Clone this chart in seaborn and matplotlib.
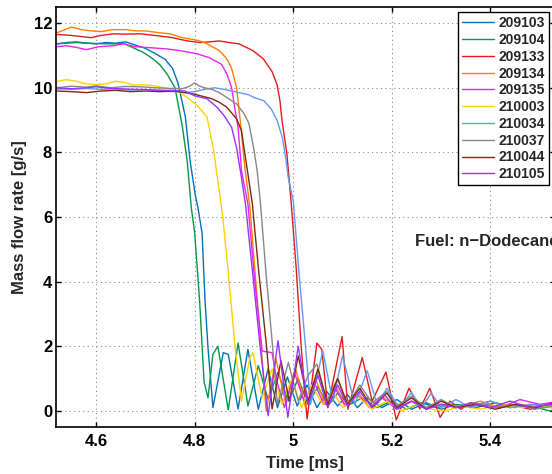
import pandas as pd
import seaborn as sns
import matplotlib.pyplot as plt

runs = ['209103', '209104', '209133', '209134', '209135',
        '210003', '210034', '210037', '210044', '210105']
colors = ['#0072bd', '#00994d', '#e41a1c', '#ff7f00', '#ee22ee',
          '#ffd200', '#6699f0', '#888888', '#7b2c0e', '#9933ff']

run_209103 = [(4.52, 11.36), (4.54, 11.40), (4.56, 11.42), (4.58, 11.38), (4.60, 11.36), (4.62, 11.40),
              (4.64, 11.38), (4.66, 11.42), (4.68, 11.32), (4.70, 11.22), (4.72, 11.06), (4.74, 10.88),
              (4.755, 10.6), (4.766, 10.15), (4.774, 9.6), (4.781, 9.1), (4.791, 7.7), (4.801, 6.7),
              (4.807, 6.25), (4.815, 5.5), (4.821, 3.4), (4.827, 1.95), (4.837, 0.1), (4.858, 1.8),
              (4.868, 1.75), (4.888, 0.06), (4.908, 1.9), (4.929, 0.05), (4.949, 1.3), (4.968, 0.1),
              (4.988, 1.05), (5.008, 0.15), (5.028, 0.8), (5.048, 0.1), (5.068, 0.6), (5.09, 0.15),
              (5.11, 0.5), (5.13, 0.1), (5.15, 0.4), (5.18, 0.1), (5.21, 0.35), (5.24, 0.05),
              (5.27, 0.25), (5.30, 0.05), (5.33, 0.2), (5.37, 0.1), (5.41, 0.25), (5.45, 0.1),
              (5.49, 0.2), (5.53, 0.12), (5.56, 0.15)]

run_209104 = [(4.52, 11.36), (4.54, 11.38), (4.56, 11.40), (4.58, 11.38), (4.60, 11.37), (4.62, 11.36),
              (4.64, 11.36), (4.655, 11.38), (4.675, 11.24), (4.695, 11.1), (4.715, 10.9), (4.73, 10.7),
              (4.745, 10.4), (4.76, 10.0), (4.775, 8.8), (4.785, 7.7), (4.793, 6.3), (4.80, 5.5),
              (4.81, 3.4), (4.815, 2.0), (4.819, 0.9), (4.827, 0.4), (4.837, 1.75), (4.847, 2.0),
              (4.868, 0.03), (4.888, 2.1), (4.908, 0.15), (4.929, 1.4), (4.949, 0.35), (4.969, 1.2),
              (4.99, 0.3), (5.01, 1.0), (5.03, 0.2), (5.05, 0.75), (5.07, 0.15), (5.09, 0.55),
              (5.115, 0.2), (5.14, 0.4), (5.17, 0.1), (5.20, 0.3), (5.23, 0.05), (5.26, 0.25),
              (5.29, 0.1), (5.32, 0.2), (5.36, 0.15), (5.40, 0.3), (5.44, 0.1), (5.48, 0.15),
              (5.52, 0.0), (5.56, 0.1)]

run_209133 = [(4.52, 11.65), (4.55, 11.62), (4.59, 11.55), (4.61, 11.62), (4.635, 11.67), (4.66, 11.66),
              (4.69, 11.67), (4.73, 11.6), (4.755, 11.55), (4.785, 11.45), (4.81, 11.4), (4.83, 11.42),
              (4.85, 11.45), (4.87, 11.4), (4.89, 11.36), (4.918, 11.15), (4.939, 10.9), (4.957, 10.5),
              (4.967, 10.1), (4.973, 9.6), (4.977, 9.0), (4.987, 7.96), (4.996, 6.4), (5.006, 4.4),
              (5.016, 2.0), (5.028, -0.25), (5.048, 2.1), (5.058, 1.9), (5.07, 0.1), (5.099, 2.3),
              (5.111, 0.05), (5.14, 1.65), (5.16, 0.3), (5.188, 1.2), (5.209, -0.28), (5.235, 0.7),
              (5.257, 0.06), (5.277, 0.7), (5.298, -0.2), (5.318, 0.3), (5.34, 0.05), (5.36, 0.25),
              (5.40, 0.1), (5.44, 0.2), (5.48, 0.05), (5.52, 0.15), (5.56, 0.1)]

run_209134 = [(4.52, 11.7), (4.55, 11.88), (4.57, 11.8), (4.59, 11.76), (4.61, 11.74), (4.635, 11.8),
              (4.66, 11.8), (4.68, 11.76), (4.70, 11.76), (4.73, 11.7), (4.75, 11.67), (4.775, 11.55),
              (4.795, 11.5), (4.81, 11.45), (4.825, 11.36), (4.85, 11.15), (4.865, 10.9), (4.875, 10.6),
              (4.885, 10.0), (4.893, 8.9), (4.902, 7.5), (4.912, 6.3), (4.924, 4.0), (4.935, 1.95),
              (4.945, 0.0), (4.965, 1.6), (4.985, 0.2), (5.005, 1.3), (5.025, 0.1), (5.045, 1.0),
              (5.065, 0.2), (5.085, 0.8), (5.105, 0.2), (5.13, 0.6), (5.155, 0.1), (5.18, 0.45),
              (5.21, 0.1), (5.24, 0.3), (5.27, 0.05), (5.30, 0.2), (5.34, 0.15), (5.38, 0.3),
              (5.42, 0.1), (5.46, 0.2), (5.50, 0.1), (5.54, 0.2), (5.56, 0.15)]

run_209135 = [(4.52, 11.27), (4.54, 11.3), (4.56, 11.25), (4.58, 11.18), (4.605, 11.27), (4.635, 11.3),
              (4.655, 11.36), (4.68, 11.27), (4.71, 11.24), (4.745, 11.2), (4.77, 11.15), (4.805, 11.05),
              (4.83, 10.93), (4.855, 10.72), (4.866, 10.4), (4.875, 10.0), (4.882, 9.3), (4.888, 8.77),
              (4.895, 7.43), (4.908, 6.4), (4.922, 4.0), (4.937, 1.85), (4.957, 1.8), (4.967, 0.9),
              (4.982, 0.1), (5.002, 1.2), (5.022, 0.3), (5.042, 0.9), (5.062, 0.2), (5.085, 0.7),
              (5.105, 0.15), (5.13, 0.5), (5.155, 0.1), (5.18, 0.4), (5.21, 0.05), (5.24, 0.3),
              (5.27, 0.1), (5.30, 0.2), (5.34, 0.1), (5.38, 0.2), (5.42, 0.1), (5.46, 0.35),
              (5.50, 0.2), (5.54, 0.3), (5.56, 0.2)]

run_210003 = [(4.52, 10.2), (4.54, 10.25), (4.56, 10.2), (4.58, 10.12), (4.60, 10.1), (4.62, 10.12),
              (4.64, 10.2), (4.66, 10.16), (4.675, 10.08), (4.69, 10.1), (4.72, 10.06), (4.75, 9.96),
              (4.77, 9.85), (4.785, 9.7), (4.805, 9.45), (4.825, 9.1), (4.838, 8.1), (4.848, 7.0),
              (4.857, 6.0), (4.868, 4.3), (4.882, 1.95), (4.895, 0.3), (4.912, 1.65), (4.918, 1.8),
              (4.937, 0.4), (4.957, 1.3), (4.977, 0.2), (4.997, 1.0), (5.017, 0.1), (5.037, 0.8),
              (5.06, 0.2), (5.08, 0.6), (5.10, 0.1), (5.13, 0.45), (5.16, 0.05), (5.19, 0.3),
              (5.22, 0.0), (5.25, 0.2), (5.28, 0.05), (5.31, 0.0), (5.34, 0.15), (5.38, 0.05),
              (5.42, 0.2), (5.46, 0.1), (5.50, 0.15), (5.54, 0.05), (5.56, 0.1)]

run_210034 = [(4.52, 9.97), (4.55, 9.95), (4.58, 9.98), (4.61, 9.95), (4.64, 9.97), (4.67, 9.93),
              (4.70, 9.95), (4.73, 9.9), (4.76, 9.88), (4.78, 9.85), (4.80, 9.88), (4.82, 9.95),
              (4.84, 10.0), (4.86, 9.95), (4.89, 9.85), (4.91, 9.78), (4.92, 9.7), (4.94, 9.6),
              (4.955, 9.35), (4.967, 9.0), (4.978, 8.45), (4.985, 7.8), (4.990, 7.2), (5.0, 6.5),
              (5.012, 4.2), (5.025, 1.95), (5.035, 0.2), (5.06, 1.85), (5.08, 0.3), (5.10, 1.7),
              (5.125, 0.2), (5.15, 1.24), (5.17, 0.2), (5.19, 0.7), (5.215, 0.1), (5.24, 0.56),
              (5.26, 0.1), (5.28, 0.55), (5.30, 0.1), (5.33, 0.35), (5.36, 0.1), (5.40, 0.3),
              (5.44, 0.1), (5.48, 0.2), (5.52, 0.15), (5.56, 0.2)]

run_210037 = [(4.52, 10.0), (4.55, 10.05), (4.58, 10.02), (4.60, 10.06), (4.63, 10.0), (4.66, 10.04),
              (4.69, 10.03), (4.72, 10.0), (4.75, 9.98), (4.775, 9.97), (4.79, 10.05), (4.80, 10.15),
              (4.81, 10.05), (4.82, 10.0), (4.835, 9.95), (4.85, 9.85), (4.865, 9.7), (4.885, 9.5),
              (4.90, 9.2), (4.91, 8.9), (4.92, 8.1), (4.927, 7.4), (4.933, 6.5), (4.945, 4.2),
              (4.957, 2.17), (4.968, 0.2), (4.99, 1.5), (5.01, 0.3), (5.03, 1.1), (5.048, 1.45),
              (5.068, 0.3), (5.09, 1.0), (5.11, 0.2), (5.135, 0.8), (5.16, 0.25), (5.19, 0.6),
              (5.21, 0.15), (5.24, 0.45), (5.27, 0.1), (5.30, 0.35), (5.33, 0.1), (5.37, 0.25),
              (5.41, 0.1), (5.45, 0.2), (5.49, 0.05), (5.53, 0.15), (5.56, 0.1)]

run_210044 = [(4.52, 9.9), (4.55, 9.88), (4.58, 9.85), (4.61, 9.9), (4.64, 9.92), (4.67, 9.88),
              (4.70, 9.9), (4.73, 9.88), (4.76, 9.9), (4.78, 9.85), (4.80, 9.8), (4.82, 9.72),
              (4.835, 9.66), (4.85, 9.55), (4.865, 9.4), (4.885, 9.04), (4.895, 8.67), (4.90, 8.14),
              (4.907, 7.43), (4.917, 6.4), (4.93, 4.3), (4.946, 1.95), (4.957, 0.06), (4.975, 1.55),
              (4.992, 0.3), (5.01, 1.7), (5.03, 0.3), (5.05, 1.3), (5.07, 0.2), (5.09, 1.0),
              (5.11, 0.2), (5.135, 0.7), (5.16, 0.1), (5.19, 0.55), (5.21, 0.1), (5.24, 0.4),
              (5.27, 0.05), (5.30, 0.3), (5.33, 0.1), (5.37, 0.2), (5.41, 0.05), (5.45, 0.2),
              (5.49, 0.1), (5.53, 0.25), (5.56, 0.15)]

run_210105 = [(4.52, 10.0), (4.55, 9.97), (4.58, 10.0), (4.60, 10.03), (4.63, 9.98), (4.66, 9.96),
              (4.70, 9.94), (4.74, 9.92), (4.78, 9.9), (4.80, 9.75), (4.825, 9.66), (4.845, 9.4),
              (4.86, 9.13), (4.875, 8.77), (4.885, 8.14), (4.893, 7.4), (4.903, 6.4), (4.918, 4.2),
              (4.933, 1.95), (4.949, -0.15), (4.969, 2.17), (4.989, -0.2), (5.01, 2.0), (5.03, 0.2),
              (5.05, 1.1), (5.07, 0.1), (5.09, 0.8), (5.11, 0.15), (5.135, 0.6), (5.16, 0.1),
              (5.185, 0.5), (5.21, 0.05), (5.24, 0.3), (5.27, 0.05), (5.30, 0.2), (5.33, 0.1),
              (5.36, 0.25), (5.40, 0.1), (5.44, 0.3), (5.48, 0.1), (5.52, 0.2), (5.56, 0.15)]

series = [run_209103, run_209104, run_209133, run_209134, run_209135,
          run_210003, run_210034, run_210037, run_210044, run_210105]

xticks = [4.6, 4.8, 5.0, 5.2, 5.4]
xticklabels = ['4.6', '4.8', '5', '5.2', '5.4']
yticks = [0, 2, 4, 6, 8, 10, 12]

# long format for seaborn
frames = []
for name, pts in zip(runs, series):
    d = pd.DataFrame(pts, columns=['t', 'mdot'])
    d['run'] = name
    frames.append(d)
df = pd.concat(frames, ignore_index=True)

sns.set_style('ticks')
plt.rcParams['font.family'] = ['Liberation Sans', 'DejaVu Sans']
plt.rcParams['font.weight'] = 'bold'
plt.rcParams['axes.labelweight'] = 'bold'

fig = plt.figure(figsize=(5.52, 4.74), dpi=100)
# axes runs past the right edge like the cropped original
ax = fig.add_axes([55.7 / 552, 47 / 474, 499.3 / 552, 420 / 474])
ax.set_axisbelow(True)
ax.grid(True, linestyle=(0, (1, 3)), color='#8a8a8a', lw=0.8)

sns.lineplot(data=df, x='t', y='mdot', hue='run', hue_order=runs,
             palette=dict(zip(runs, colors)), estimator=None, sort=False,
             lw=1.0, ax=ax)

ax.set_xlim(4.518, 5.531)
ax.set_ylim(-0.5, 12.5)
ax.set_xticks(xticks)
ax.set_xticklabels(xticklabels)
ax.set_yticks(yticks)
ax.tick_params(direction='in', length=3.8, width=1, top=True, right=True,
               labelsize=12, colors='black')
ax.tick_params(axis='x', pad=5)
ax.tick_params(axis='y', pad=2.5)
for s in ax.spines.values():
    s.set_linewidth(1.2)
    s.set_color('black')

ax.set_xlabel('Time [ms]', fontsize=12, fontweight='bold', labelpad=5)
ax.set_ylabel('Mass flow rate [g/s]', fontsize=12, fontweight='bold', labelpad=5)

old = ax.get_legend()
handles = old.legend_handles
labels = [t.get_text() for t in old.get_texts()]
leg = ax.legend(handles, labels, loc='upper right', bbox_to_anchor=(0.988, 0.988),
                borderaxespad=0, labelspacing=0.2, handlelength=2.3,
                handletextpad=0.3, borderpad=0.3, fancybox=False, framealpha=1,
                edgecolor='black', prop={'weight': 'bold', 'size': 10})
leg.get_frame().set_linewidth(1.0)
for h in leg.legend_handles:
    h.set_linewidth(1.0)

# the label runs off the right edge in the original too
ax.text(5.247, 5.23, 'Fuel: n\u2212Dodecane', fontsize=12, fontweight='bold',
        ha='left', va='center')

fig.savefig('out.png', dpi=100)
